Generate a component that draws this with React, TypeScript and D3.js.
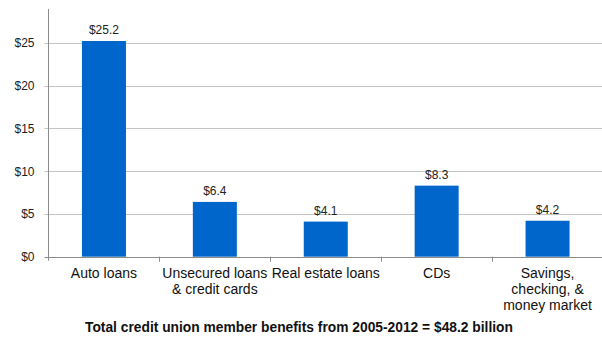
import React from "react";
import * as d3 from "d3";

const categories: string[][] = [
  ["Auto loans"],
  ["Unsecured loans", "& credit cards"],
  ["Real estate loans"],
  ["CDs"],
  ["Savings,", "checking, &", "money market"],
];
const values: number[] = [25.2, 6.4, 4.1, 8.3, 4.2];
const valueLabels: string[] = ["$25.2", "$6.4", "$4.1", "$8.3", "$4.2"];
const yTicks: number[] = [0, 5, 10, 15, 20, 25];
const title = "Total credit union member benefits from 2005-2012 = $48.2 billion";

const W = 602;
const H = 341;
const left = 48.5;
const right = 603;
const y0 = 256.7;
const y25 = 42.7;
const axisTop = 9;
const font = "Liberation Sans, Arial, sans-serif";

export default function App() {
  const x = d3
    .scaleBand<number>()
    .domain(values.map((_, i) => i))
    .range([left, right])
    .paddingInner(0)
    .paddingOuter(0);
  const y = d3.scaleLinear().domain([0, 25]).range([y0, y25]);
  const bw = x.bandwidth();
  const barW = 44;

  return (
    <div style={{ position: "absolute", left: 0, top: 0 }}>
      <svg width={W} height={H} style={{ display: "block", background: "#fff" }}>
        {yTicks.map((t) => (
          <g key={t}>
            <line x1={left - 4} x2={W} y1={Math.round(y(t)) + 0.5} y2={Math.round(y(t)) + 0.5} stroke={t === 0 ? "#8c8c8c" : "#c4c4c4"} strokeWidth={1} />
            <text x={34.5} y={y(t) + 4.5} textAnchor="end" fontFamily={font} fontSize={12} fill="#222">
              {"$" + d3.format("d")(t)}
            </text>
          </g>
        ))}
        <line x1={left} x2={left} y1={axisTop} y2={y0 + 4} stroke="#8c8c8c" strokeWidth={1} />
        {values.slice(1).map((_, i) => {
          const bx = x(i + 1) as number;
          return (
            <line key={i} x1={Math.round(bx) + 0.5} x2={Math.round(bx) + 0.5} y1={y0} y2={y0 + 5} stroke="#8c8c8c" />
          );
        })}
        {values.map((v, i) => {
          const cx = (x(i) as number) + bw / 2;
          return (
            <g key={i}>
              <rect x={cx - barW / 2} y={y(v)} width={barW} height={y0 - y(v)} fill="#0066cc" />
              <text x={cx} y={y(v) - 7} textAnchor="middle" fontFamily={font} fontSize={12} fill="#222">
                {valueLabels[i]}
              </text>
              {categories[i].map((line, j) => (
                <text key={j} x={cx} y={278 + j * 16} textAnchor="middle" fontFamily={font} fontSize={14} fill="#111">
                  {line}
                </text>
              ))}
            </g>
          );
        })}
        <text x={299} y={331.5} textAnchor="middle" fontFamily={font} fontSize={13.8} fontWeight="bold" fill="#111">
          {title}
        </text>
      </svg>
    </div>
  );
}
